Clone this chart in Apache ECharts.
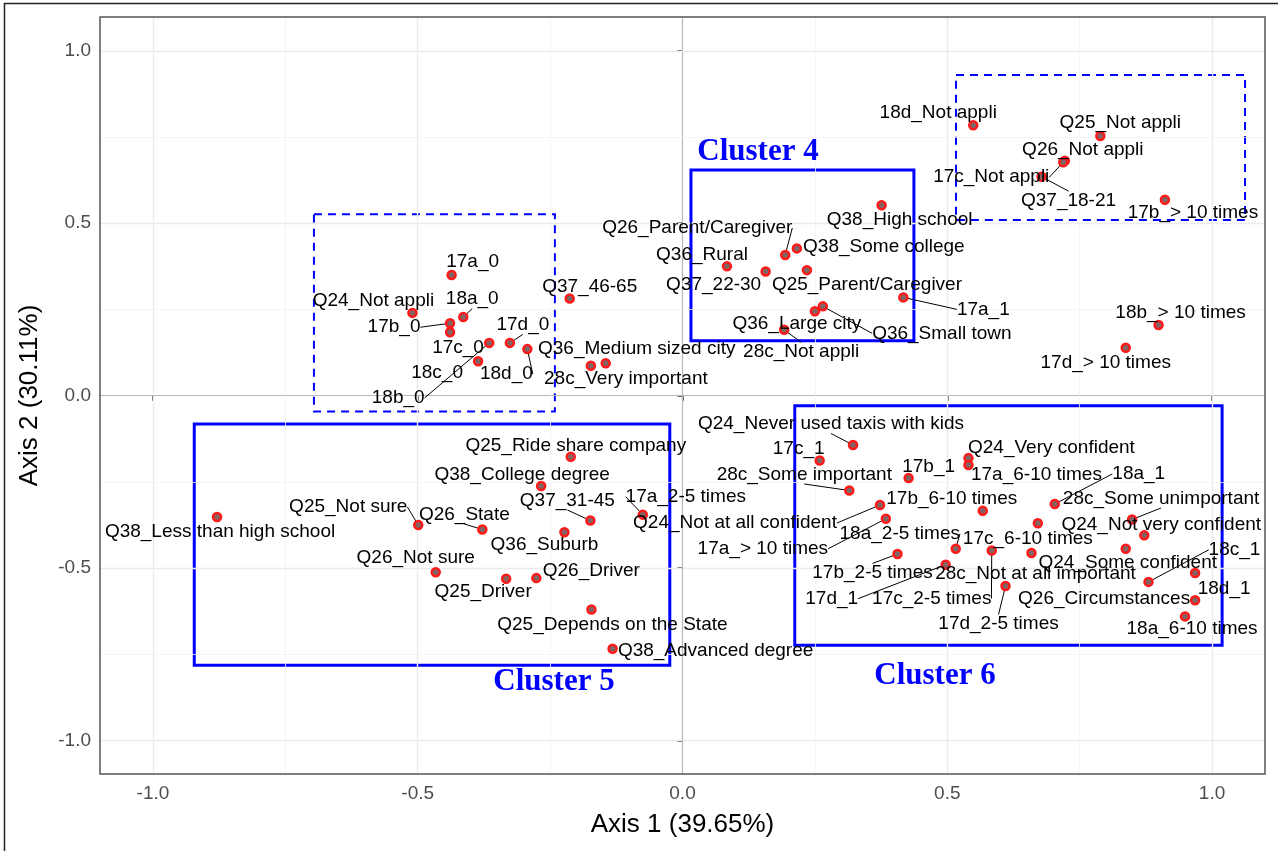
<!DOCTYPE html>
<html>
<head>
<meta charset="utf-8">
<script src="https://cdn.jsdelivr.net/npm/echarts@6/dist/echarts.min.js"></script>
<style>
html,body{margin:0;padding:0;background:#fff;}
#chart{width:1278px;height:851px;}
</style>
</head>
<body>
<div id="chart"></div>
<script>
// ---- data ----
const categories = [
 "17a_0","Q24_Not appli","18a_0","17b_0","17c_0","17d_0","18d_0","18c_0","18b_0","Q37_46-65","Q36_Medium sized city","28c_Very important",
 "Q38_High school","Q38_Some college","Q26_Parent/Caregiver","Q36_Rural","Q37_22-30","Q25_Parent/Caregiver","17a_1","Q36_Small town","Q36_Large city","28c_Not appli",
 "18d_Not appli","Q25_Not appli","Q26_Not appli","17c_Not appli","Q37_18-21","17b_> 10 times","18b_> 10 times","17d_> 10 times",
 "Q38_Less than high school","Q25_Ride share company","Q38_College degree","Q37_31-45","17a_2-5 times","Q25_Not sure","Q26_State","Q36_Suburb","Q26_Not sure","Q25_Driver","Q26_Driver","Q25_Depends on the State","Q38_Advanced degree",
 "Q24_Never used taxis with kids","17c_1","28c_Some important","17b_1","Q24_Very confident","17a_6-10 times","18a_1","17b_6-10 times","Q24_Not at all confident","17a_> 10 times","28c_Some unimportant","Q24_Not very confident","18a_2-5 times","17c_6-10 times","17c_2-5 times","17d_1","17b_2-5 times","17d_2-5 times","28c_Not at all important","Q24_Some confident","18c_1","18d_1","Q26_Circumstances","18a_6-10 times"
];
const axis1Values = [
 -0.436,-0.510,-0.414,-0.439,-0.439,-0.326,-0.293,-0.386,-0.365,-0.213,-0.145,-0.173,
 0.376,0.216,0.194,0.084,0.157,0.235,0.417,0.265,0.250,0.192,
 0.549,0.789,0.722,0.719,0.678,0.911,0.899,0.837,
 -0.879,-0.211,-0.267,-0.174,-0.075,-0.499,-0.378,-0.223,-0.466,-0.333,-0.276,-0.172,-0.132,
 0.322,0.259,0.315,0.427,0.540,0.540,0.703,0.567,0.373,0.384,0.849,0.872,0.516,0.671,0.584,0.497,0.406,0.610,0.659,0.837,0.880,0.968,0.968,0.949
];
const axis2Values = [
 0.350,0.240,0.228,0.210,0.184,0.153,0.135,0.100,0.153,0.282,0.094,0.087,
 0.552,0.427,0.408,0.375,0.360,0.364,0.285,0.259,0.245,0.191,
 0.784,0.753,0.681,0.677,0.635,0.568,0.205,0.139,
 -0.352,-0.177,-0.262,-0.362,-0.345,-0.375,-0.388,-0.396,-0.512,-0.531,-0.529,-0.620,-0.734,
 -0.143,-0.188,-0.275,-0.239,-0.181,-0.201,-0.314,-0.334,-0.317,-0.357,-0.359,-0.405,-0.444,-0.370,-0.449,-0.490,-0.459,-0.552,-0.456,-0.444,-0.540,-0.514,-0.593,-0.640
];
const tickValues = [-1.0,-0.5,0.0,0.5,1.0];
const minorValues = [-0.75,-0.25,0.25,0.75];
const xAxisTitle = "Axis 1 (39.65%)";
const yAxisTitle = "Axis 2 (30.11%)";
// cluster annotation boxes: [x1, y1, x2, y2] in axis units
const solidBoxes = [[0.016,0.6545,0.437,0.159],[-0.922,-0.082,-0.024,-0.782],[0.212,-0.029,1.019,-0.724]];
const dashedBoxes = [[-0.696,0.526,-0.241,-0.046],[0.5165,0.9296,1.0623,0.5097]];
const clusterNames = ["Cluster 4","Cluster 5","Cluster 6"];
const clusterX = [0.1426,-0.2427,0.4768];
const clusterY = [0.7058,-0.829,-0.812];

// ---- label placement (pixel nudges, styling only) ----
const labelNudge = {
 "17a_0":[21,-13],"Q24_Not appli":[-39,-12],"18a_0":[9,-18],"17b_0":[-56,4],"17c_0":[8,16],"17d_0":[13,-18],"18d_0":[-21,25],"18c_0":[-41,12],"18b_0":[-91,55],"Q37_46-65":[20,-12],"Q36_Medium sized city":[31,-14],"28c_Very important":[35,13],
 "Q38_High school":[18,14],"Q38_Some college":[87,-2],"Q26_Parent/Caregiver":[-88,-27],"Q36_Rural":[-25,-12],"Q37_22-30":[-52,13],"Q25_Parent/Caregiver":[60,15],"17a_1":[80,12],"Q36_Small town":[119,27],"Q36_Large city":[-18,13],"28c_Not appli":[17,22],
 "18d_Not appli":[-35,-13],"Q25_Not appli":[20,-13],"Q26_Not appli":[18,-11],"17c_Not appli":[-72,15],"Q37_18-21":[27,24],"17b_> 10 times":[28,13],"18b_> 10 times":[22,-12],"17d_> 10 times":[-20,15],
 "Q38_Less than high school":[3,15],"Q25_Ride share company":[5,-11],"Q38_College degree":[-19,-11],"Q37_31-45":[-23,-20],"17a_2-5 times":[43,-18],"Q25_Not sure":[-70,-18],"Q26_State":[-18,-15],"Q36_Suburb":[-20,13],"Q26_Not sure":[-20,-14],"Q25_Driver":[-23,13],"Q26_Driver":[55,-7],"Q25_Depends on the State":[21,15],"Q38_Advanced degree":[103,2],
 "Q24_Never used taxis with kids":[-22,-21],"17c_1":[-21,-12],"28c_Some important":[-45,-16],"17b_1":[20,-11],"Q24_Very confident":[83,-10],"17a_6-10 times":[68,10],"18a_1":[84,-30],"17b_6-10 times":[-31,-12],"Q24_Not at all confident":[-145,18],"17a_> 10 times":[-123,30],"28c_Some unimportant":[29,-21],"Q24_Not very confident":[17,-11],"18a_2-5 times":[-56,-15],"17c_6-10 times":[-10,15],"17c_2-5 times":[-60,48],"17d_1":[-114,34],"17b_2-5 times":[-25,19],"17d_2-5 times":[-7,38],"28c_Not at all important":[4,21],"Q24_Some confident":[2,14],"18c_1":[86,-32],"18d_1":[29,16],"Q26_Circumstances":[-91,-1],"18a_6-10 times":[7,12]
};
const withLeader = new Set(["18a_0","17b_0","17d_0","18d_0","18b_0","Q26_Parent/Caregiver","17a_1","Q36_Small town","28c_Not appli","17c_Not appli","Q37_18-21","Q37_31-45","17a_2-5 times","Q25_Not sure","Q26_State","Q24_Never used taxis with kids","28c_Some important","18a_1","Q24_Not at all confident","17a_> 10 times","28c_Some unimportant","18a_2-5 times","17c_2-5 times","17d_1","17b_2-5 times","17d_2-5 times","18c_1"]);

const chart = echarts.init(document.getElementById('chart'), null, {renderer:'canvas'});

const pointData = categories.map((n,i)=>({
  name:n, value:[axis1Values[i], axis2Values[i]],
  labelLine:{show: withLeader.has(n)}
}));

const gridLineData = [];
tickValues.forEach(v=>{
  const zero = v===0;
  const st = zero ? {color:'#b8b8b8', width:1.2, type:'solid'} : {color:'#ebebeb', width:1.4, type:'solid'};
  gridLineData.push({xAxis:v, lineStyle:st});
  gridLineData.push({yAxis:v, lineStyle:st});
});
minorValues.forEach(v=>{
  const st = {color:'#f3f3f3', width:0.8, type:'solid'};
  gridLineData.push({xAxis:v, lineStyle:st});
  gridLineData.push({yAxis:v, lineStyle:st});
});

function boxArea(b, dashed){
  return [{coord:[b[0],b[1]], itemStyle:{color:'rgba(0,0,0,0)', borderColor:'#0000ff', borderWidth: dashed?2:3, borderType: dashed?[8,6]:'solid'}},{coord:[b[2],b[3]]}];
}

const option = {
  animation:false,
  backgroundColor:'#ffffff',
  grid:{left:100, top:17, width:1165, height:757, show:true, borderColor:'#555555', borderWidth:1.5, backgroundColor:'transparent', z:10},
  xAxis:{
    type:'value', min:-1.1, max:1.1,
    name:xAxisTitle, nameLocation:'middle', nameGap:38,
    nameTextStyle:{fontFamily:'Liberation Sans', fontSize:26, color:'#000'},
    axisLine:{show:false},
    axisTick:{show:true, length:5, lineStyle:{color:'#333', width:1.5}, customValues:tickValues},
    axisLabel:{color:'#4d4d4d', fontFamily:'Liberation Sans', fontSize:19, margin:10, customValues:tickValues, formatter:v=>v.toFixed(1)},
    splitLine:{show:false}
  },
  yAxis:{
    type:'value', min:-1.097, max:1.098,
    name:yAxisTitle, nameLocation:'middle', nameGap:57, nameRotate:90,
    nameTextStyle:{fontFamily:'Liberation Sans', fontSize:26, color:'#000'},
    axisLine:{show:false},
    axisTick:{show:true, length:5, lineStyle:{color:'#333', width:1.5}, customValues:tickValues},
    axisLabel:{color:'#4d4d4d', fontFamily:'Liberation Sans', fontSize:19, margin:9, customValues:tickValues, formatter:v=>v.toFixed(1)},
    splitLine:{show:false}
  },
  graphic:[{type:'rect', silent:true, shape:{x:4.5,y:3.5,width:1400,height:1000}, style:{fill:'none', stroke:'#222', lineWidth:1.5}}],
  series:[
    {type:'scatter', name:'grid', data:[], z:1, silent:true,
     markLine:{silent:true, symbol:['none','none'], label:{show:false}, data:gridLineData, animation:false}},
    {type:'scatter', name:'boxes', data:[], z:4, silent:true,
     markArea:{silent:true, data: solidBoxes.map(b=>boxArea(b,false)).concat(dashedBoxes.map(b=>boxArea(b,true)))}},
    {type:'scatter', name:'points', data:pointData, z:5,
     symbol:'circle', symbolSize:8,
     itemStyle:{color:'#826464', borderColor:'#ff1a1a', borderWidth:2.5, opacity:1},
     label:{show:true, position:'inside', formatter:p=>p.name, color:'#000', fontFamily:'Liberation Sans', fontSize:19},
     labelLine:{show:false, lineStyle:{color:'#000', width:1}},
     labelLayout:function(p){
       const n = categories[p.dataIndex];
       const o = labelNudge[n] || [0,0];
       return {dx:o[0], dy:o[1]};
     }
    },
    {type:'scatter', name:'clusters', z:6, symbolSize:0,
     itemStyle:{opacity:1},
     data: clusterNames.map((n,i)=>({name:n, value:[clusterX[i], clusterY[i]]})),
     label:{show:true, position:'inside', formatter:p=>p.name, color:'#0000ff', opacity:1, fontFamily:'Liberation Serif', fontWeight:'bold', fontSize:31}
    }
  ]
};
chart.setOption(option);
</script>
</body>
</html>
